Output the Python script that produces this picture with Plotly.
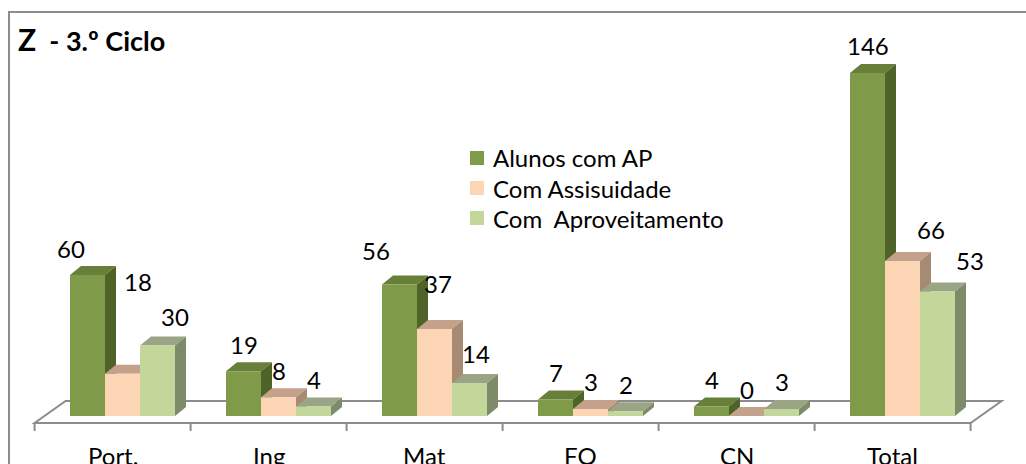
import plotly.graph_objects as go

# ---------------- data ----------------
categories = ["Port.", "Ing", "Mat", "FO", "CN", "Total"]
series_names = ["Alunos com AP", "Com Assisuidade", "Com  Aproveitamento"]
alunos_com_ap = [60, 19, 56, 7, 4, 146]
com_assiduidade = [18, 8, 37, 3, 0, 66]
com_aproveitamento = [30, 4, 14, 2, 3, 53]

# ---------------- styling ----------------
front_cols = ["#7F9A48", "#FCD5B5", "#C4D79B"]
top_cols = ["#687F39", "#C3A18A", "#99A585"]
side_cols = ["#4F6228", "#A68A73", "#7E8B6A"]
FONT = "Lato"
W, H = 1026, 464
PX_X = 156.0          # pixels per category
PX_Y = 2.35           # pixels per value unit
BASE_PX = 416.0       # pixel row of value 0
CAT0_PX = 122.5       # pixel column of first category centre
BARGAP = 1 - 3 * 35 / 156
XMIN = -CAT0_PX / PX_X
XMAX = XMIN + W / PX_X
YMAX = BASE_PX / PX_Y
YMIN = YMAX - H / PX_Y

def dxu(px):
    return px / PX_X

def dyu(px):
    return px / PX_Y

series = [alunos_com_ap, com_assiduidade, com_aproveitamento]
n = len(categories)
idx = list(range(n))

fig = go.Figure()
for k, (name, vals) in enumerate(zip(series_names, series)):
    fig.add_trace(go.Bar(
        x=idx, y=vals, name=name,
        marker=dict(color=front_cols[k], line=dict(width=0)),
        hoverinfo="name+y", showlegend=False,
    ))

shapes = []
# outer chart border
shapes.append(dict(type="rect", xref="paper", yref="paper",
                   x0=9 / W, x1=1.05, y0=-0.1, y1=1 - 12 / H,
                   line=dict(color="#8C8C8C", width=2), layer="below"))

# floor (parallelogram) + ticks
fs_x, fs_y = dxu(9.9), dyu(7)
fd_x, fd_y = dxu(31), dyu(22)
fx0, fx1 = -0.5 - fs_x, n - 0.5 - fs_x
fy = -fs_y
floor_path = (f"M{fx0},{fy} L{fx1},{fy} L{fx1 + fd_x},{fy + fd_y} "
              f"L{fx0 + fd_x},{fy + fd_y} Z")
shapes.append(dict(type="path", xref="x", yref="y", path=floor_path,
                   fillcolor="white", line=dict(color="#8C8C8C", width=2),
                   layer="below"))
for b in range(n + 1):
    xb = b - 0.5 - fs_x
    shapes.append(dict(type="line", xref="x", yref="y", x0=xb, x1=xb,
                       y0=fy, y1=fy - dyu(8),
                       line=dict(color="#8C8C8C", width=2), layer="below"))

# 3D top and side faces of the bars
bw = (1 - BARGAP) / 3
ddx, ddy = dxu(11), dyu(9)
for i in idx:
    for k in range(3):
        h = series[k][i]
        c = i + (k - 1) * bw
        xl, xr = c - bw / 2, c + bw / 2
        top = (f"M{xl},{h} L{xr},{h} L{xr + ddx},{h + ddy} "
               f"L{xl + ddx},{h + ddy} Z")
        side = (f"M{xr},0 L{xr},{h} L{xr + ddx},{h + ddy} "
                f"L{xr + ddx},{ddy} Z")
        shapes.append(dict(type="path", xref="x", yref="y", path=top,
                           fillcolor=top_cols[k], line=dict(width=0),
                           layer="below"))
        shapes.append(dict(type="path", xref="x", yref="y", path=side,
                           fillcolor=side_cols[k], line=dict(width=0),
                           layer="below"))

annotations = []
# data labels (Excel placed a few of them off-centre: small nudges in px)
label_nudge = {(0, 0): (-17, 0), (0, 1): (15, 65), (0, 2): (17, 2),
               (2, 0): (-24, 7), (2, 1): (3, 19), (2, 2): (6, 3),
               (5, 1): (28, 4), (5, 2): (32, 4)}
for i in idx:
    for k in range(3):
        v = series[k][i]
        nx, ny = label_nudge.get((i, k), (0, 0))
        annotations.append(dict(
            x=i + (k - 1) * bw, y=v, xref="x", yref="y",
            text=str(v), showarrow=False, xanchor="center", yanchor="middle",
            yshift=27 + ny, xshift=nx,
            font=dict(family=FONT, size=24, color="#000000")))

# category labels
for i, cat in enumerate(categories):
    annotations.append(dict(
        x=i - fs_x, y=-(455 - BASE_PX) / PX_Y, xref="x", yref="y",
        text=cat, showarrow=False, xanchor="center", yanchor="middle",
        font=dict(family=FONT, size=24, color="#000000")))

# legend (square swatch + label per series)
LEG_X, LEG_Y0, LEG_DY, SW = 470, 158, 30, 14
for k, name in enumerate(series_names):
    yc = LEG_Y0 + k * LEG_DY
    shapes.append(dict(type="rect", xref="paper", yref="paper",
                       x0=LEG_X / W, x1=(LEG_X + SW) / W,
                       y0=1 - (yc + SW / 2) / H, y1=1 - (yc - SW / 2) / H,
                       fillcolor=front_cols[k], line=dict(width=0)))
    annotations.append(dict(
        x=(LEG_X + SW + 7) / W, y=1 - yc / H, xref="paper", yref="paper",
        text=name.replace("  ", "\u00a0 "), showarrow=False,
        xanchor="left", yanchor="middle",
        font=dict(family=FONT, size=24, color="#000000")))

# title
annotations.append(dict(
    x=16 / W, y=1 - 39 / H, xref="paper", yref="paper",
    text="<b><span style='font-size:30px'>Z</span>\u00a0\u00a0- 3.º Ciclo</b>",
    showarrow=False, xanchor="left", yanchor="middle",
    font=dict(family=FONT, size=27, color="#000000")))

fig.update_layout(
    width=W, height=H,
    margin=dict(l=0, r=0, t=0, b=0),
    paper_bgcolor="white", plot_bgcolor="white",
    barmode="group", bargap=BARGAP, bargroupgap=0,
    xaxis=dict(range=[XMIN, XMAX], visible=False, fixedrange=True),
    yaxis=dict(range=[YMIN, YMAX], visible=False, fixedrange=True),
    showlegend=False,
    shapes=shapes, annotations=annotations,
)

fig.write_html(
    "out.html",
    config={"displayModeBar": False},
    post_script="document.body.style.margin='0';"
                "document.body.style.overflow='hidden';",
)
